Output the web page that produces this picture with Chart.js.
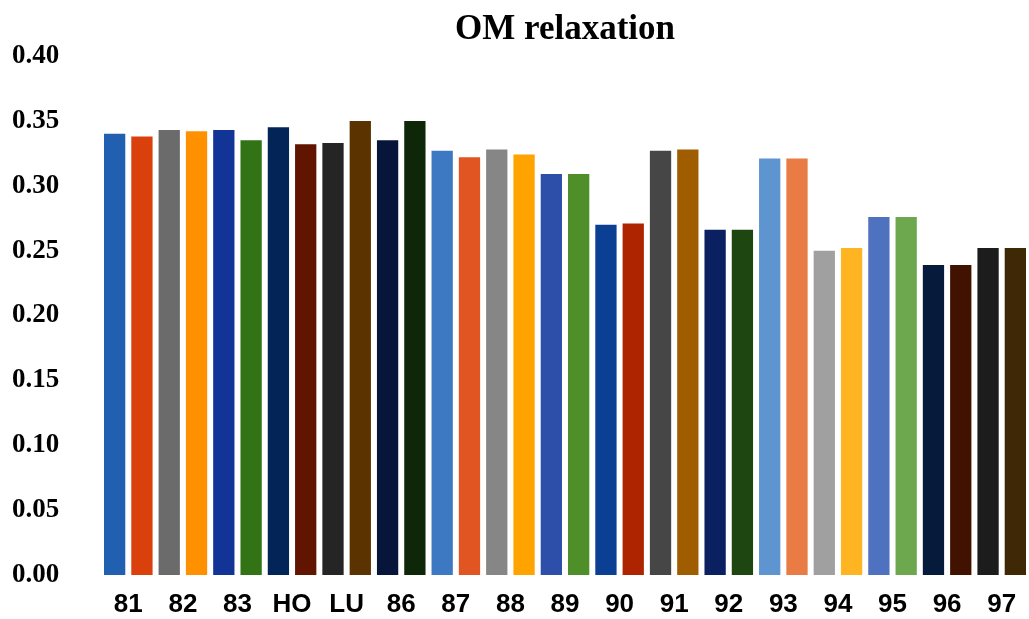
<!DOCTYPE html>
<html>
<head>
<meta charset="utf-8">
<script src="https://cdn.jsdelivr.net/npm/chart.js@4"></script>
<style>
  html, body { margin: 0; padding: 0; background: #fff; }
  #wrap { width: 1029px; height: 619px; }
</style>
</head>
<body>
<div id="wrap"><canvas id="om"></canvas></div>
<script>
const categories = ['81', '82', '83', 'HO', 'LU', '86', '87', '88', '89', '90', '91', '92', '93', '94', '95', '96', '97'];

// first and second bar of each pair
const firstBar  = [0.340, 0.343, 0.343, 0.345, 0.333, 0.335, 0.327, 0.328, 0.309, 0.270, 0.327, 0.266, 0.321, 0.250, 0.276, 0.239, 0.252];
const secondBar = [0.338, 0.342, 0.335, 0.332, 0.350, 0.350, 0.322, 0.324, 0.309, 0.271, 0.328, 0.266, 0.321, 0.252, 0.276, 0.239, 0.252];

const firstColors  = ['#2160B0', '#6B6B6B', '#123497', '#022457', '#252525', '#061539', '#3C79C2', '#868686', '#2D4FA9', '#0A3F93', '#464646', '#0A2061', '#5E94D0', '#A0A0A0', '#4F72C0', '#061A3C', '#1C1C1C'];
const secondColors = ['#D9400C', '#FF9000', '#327415', '#611500', '#5A3300', '#0F2709', '#E05521', '#FFA300', '#4E8F2A', '#AF2400', '#A05D00', '#1E4610', '#E97C45', '#FFB522', '#6EA84E', '#421200', '#3E2805'];

const yTicks = [0, 0.05, 0.10, 0.15, 0.20, 0.25, 0.30, 0.35, 0.40];

const ctx = document.getElementById('om');

new Chart(ctx, {
    type: 'bar',
    data: {
        labels: categories,
        datasets: [{
                label: 'a',
                data: firstBar,
                backgroundColor: firstColors,
                borderWidth: 0
            }, {
                label: 'b',
                data: secondBar,
                backgroundColor: secondColors,
                borderWidth: 0
            }]
    },
    options: {
        responsive: true,
        maintainAspectRatio: false,
        animation: false,
        layout: {
            padding: { left: 12, right: 0, top: 0, bottom: 0 }
        },
        plugins: {
            legend: { display: false },
            tooltip: { enabled: false },
            title: {
                display: true,
                text: 'OM relaxation',
                fullSize: false,
                color: '#000',
                font: { family: '"Liberation Serif", "Times New Roman", serif', size: 35, weight: 'bold' },
                padding: { top: 9, bottom: 5 }
            }
        },
        datasets: {
            bar: { categoryPercentage: 1.0, barPercentage: 0.78 }
        },
        scales: {
            x: {
                grid: { display: false, drawTicks: false },
                border: { display: false },
                afterFit: (axis) => { axis.height = 44; },
                ticks: {
                    color: '#000',
                    padding: 9,
                    maxRotation: 0,
                    autoSkip: false,
                    font: { family: '"Liberation Sans", Arial, sans-serif', size: 26, weight: 'bold', lineHeight: 1.6 }
                }
            },
            y: {
                min: 0,
                max: 0.4,
                grid: { display: false, drawTicks: false },
                border: { display: false },
                afterFit: (axis) => { axis.width = 89; },
                afterBuildTicks: (axis) => {
                    axis.ticks = yTicks.map(v => ({ value: v }));
                },
                ticks: {
                    color: '#000',
                    padding: 0,
                    crossAlign: 'far',
                    font: { family: '"Liberation Serif", "Times New Roman", serif', size: 27, weight: 'bold' },
                    callback: (v) => Number(v).toFixed(2)
                }
            }
        }
    }
});
</script>
</body>
</html>
